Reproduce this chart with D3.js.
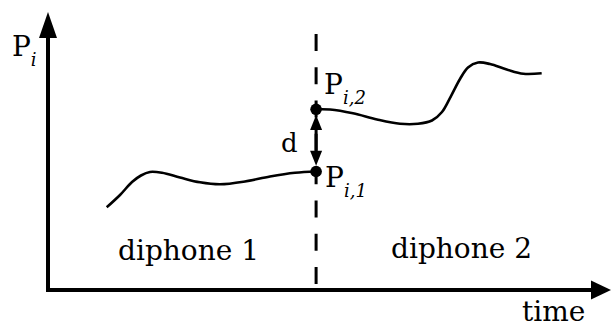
<!DOCTYPE html>
<html>
<head>
<meta charset="utf-8">
<script src="https://cdn.jsdelivr.net/npm/d3@7"></script>
<style>
  html, body { margin: 0; padding: 0; background: #fff; }
  svg { display: block; }
  text { font-family: "DejaVu Serif", serif; fill: #000; }
</style>
</head>
<body>
<div class="board"></div>
<script>
// DATA, time / value in arbitrary units
var boundary = 5;            // time of the diphone join
var diphone1 = [
  [1.095, 2.975], [1.343, 3.417], [1.567, 3.885], [1.734, 4.119], [1.902, 4.245],
  [2.126, 4.216], [2.462, 4.047], [2.835, 3.874], [3.208, 3.802], [3.674, 3.903],
  [4.140, 4.083], [4.607, 4.216], [5.000, 4.263]
];
var diphone2 = [
  [5.000, 6.500], [5.261, 6.493], [5.688, 6.356], [6.136, 6.133], [6.565, 5.978],
  [6.900, 5.978], [7.161, 6.097], [7.348, 6.403], [7.516, 6.978], [7.684, 7.590],
  [7.833, 8.004], [8.020, 8.183], [8.244, 8.129], [8.555, 7.932], [8.865, 7.777],
  [9.207, 7.795]
];
var segmentNames = ['diphone 1', 'diphone 2'];
var axisNames = ['P', 'time'];

///BOARD
var width = 611, height = 327;

var svg = d3.select('.board').append('svg')
  .attr('width', width)
  .attr('height', height);

var x = d3.scaleLinear().domain([0, 10.5]).range([48, 611]);
var y = d3.scaleLinear().domain([0, 10]).range([290, 12]);

var p1 = diphone1[diphone1.length - 1];
var p2 = diphone2[0];

// dashed join line
svg.append('line')
  .attr('x1', x(boundary)).attr('x2', x(boundary))
  .attr('y1', y(9.21)).attr('y2', y(0.22))
  .attr('stroke', '#000')
  .attr('stroke-width', 3)
  .attr('stroke-dasharray', '17,16.3');

// AXES
svg.append('line')
  .attr('x1', x(0)).attr('x2', x(0))
  .attr('y1', y(0) + 2).attr('y2', y(10) + 20)
  .attr('stroke', '#000').attr('stroke-width', 4);
svg.append('line')
  .attr('x1', x(0) - 2).attr('x2', x(10.5) - 16)
  .attr('y1', y(0)).attr('y2', y(0))
  .attr('stroke', '#000').attr('stroke-width', 4);

// arrow heads
svg.append('path')
  .attr('d', d3.line()([[x(0), y(10)], [x(0) + 9, y(10) + 26], [x(0) - 9, y(10) + 26]]) + 'Z')
  .attr('fill', '#000');
svg.append('path')
  .attr('d', d3.line()([[x(10.5), y(0)], [x(10.5) - 20, y(0) - 9.5], [x(10.5) - 20, y(0) + 9.5]]) + 'Z')
  .attr('fill', '#000');

// CURVES
var line = d3.line()
  .x(function (d) { return x(d[0]); })
  .y(function (d) { return y(d[1]); })
  .curve(d3.curveCatmullRom.alpha(0.5));

svg.selectAll('path.curve')
  .data([diphone1, diphone2])
  .enter()
  .append('path')
  .attr('class', 'curve')
  .attr('d', line)
  .attr('fill', 'none')
  .attr('stroke', '#000')
  .attr('stroke-width', 2.6);

// distance arrow between the two end points
var dotR = 5.8;
var top_ = y(p2[1]) + dotR, bot = y(p1[1]) - dotR;
svg.append('line')
  .attr('x1', x(boundary)).attr('x2', x(boundary))
  .attr('y1', top_ + 8).attr('y2', bot - 8)
  .attr('stroke', '#000').attr('stroke-width', 3);
svg.append('path')
  .attr('d', d3.line()([[x(boundary), top_], [x(boundary) + 6, top_ + 15], [x(boundary) - 6, top_ + 15]]) + 'Z')
  .attr('fill', '#000');
svg.append('path')
  .attr('d', d3.line()([[x(boundary), bot], [x(boundary) + 6, bot - 15], [x(boundary) - 6, bot - 15]]) + 'Z')
  .attr('fill', '#000');

svg.selectAll('circle')
  .data([p1, p2])
  .enter()
  .append('circle')
  .attr('cx', function (d) { return x(d[0]); })
  .attr('cy', function (d) { return y(d[1]); })
  .attr('r', dotR)
  .attr('fill', '#000');

// LABELS
var subLabel = function (px, py, main, sub, size) {
  var t = svg.append('text')
    .attr('x', px).attr('y', py)
    .style('font-size', size + 'px');
  t.append('tspan').text(main);
  t.append('tspan')
    .attr('dy', 10)
    .style('font-size', '18px')
    .style('font-style', 'italic')
    .text(sub);
  return t;
};

subLabel(12, 56, axisNames[0], 'i', 28);
subLabel(x(boundary) + 8, y(p2[1]) - 15.5, 'P', 'i,2', 28);
subLabel(x(boundary) + 9, y(p1[1]) + 16, 'P', 'i,1', 28);

svg.append('text')
  .attr('x', x(boundary) - 35).attr('y', 152)
  .style('font-size', '26px')
  .text('d');

svg.selectAll('text.seg')
  .data(segmentNames)
  .enter()
  .append('text')
  .attr('class', 'seg')
  .attr('x', function (d, i) { return i === 0 ? 118 : 391; })
  .attr('y', function (d, i) { return i === 0 ? 260 : 258; })
  .style('font-size', '28px')
  .text(function (d) { return d; });

svg.append('text')
  .attr('x', 522).attr('y', 321)
  .style('font-size', '28px')
  .text(axisNames[1]);
</script>
</body>
</html>
